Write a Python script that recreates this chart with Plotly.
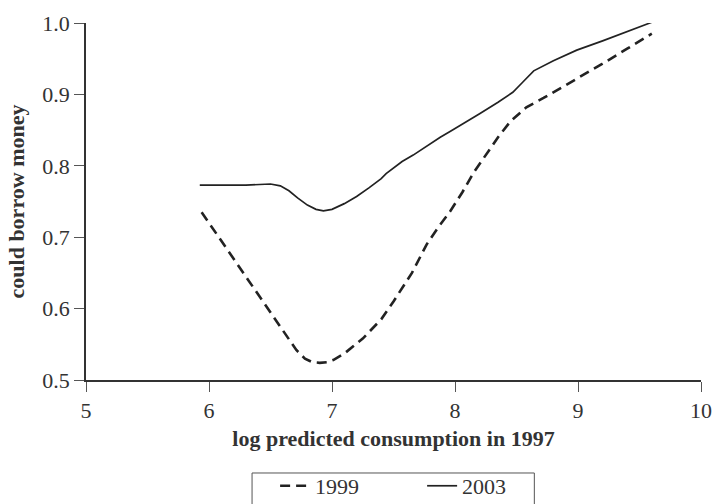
import plotly.graph_objects as go

# 1999 (dashed) series
x1999 = [5.94, 6.10, 6.30, 6.50, 6.71, 6.78, 6.84, 6.90, 6.96, 7.01, 7.10, 7.25, 7.40,
         7.50, 7.55, 7.65, 7.77, 7.86, 7.96, 8.06, 8.15, 8.23, 8.35, 8.45, 8.50, 8.58,
         8.72, 8.93, 9.02, 9.20, 9.40, 9.60]
y1999 = [0.735, 0.695, 0.645, 0.595, 0.542, 0.530, 0.525, 0.524, 0.525, 0.528, 0.537,
         0.558, 0.585, 0.610, 0.623, 0.650, 0.690, 0.713, 0.736, 0.763, 0.790, 0.810,
         0.840, 0.862, 0.870, 0.882, 0.895, 0.916, 0.924, 0.943, 0.964, 0.985]

# 2003 (solid) series
x2003 = [5.925, 6.10, 6.30, 6.50, 6.58, 6.65, 6.72, 6.80, 6.87, 6.93, 7.00, 7.10, 7.20,
         7.30, 7.40, 7.44, 7.47, 7.52, 7.57, 7.66, 7.77, 7.88, 7.97, 8.06, 8.20, 8.35,
         8.47, 8.55, 8.64, 8.80, 8.99, 9.20, 9.40, 9.60]
y2003 = [0.773, 0.773, 0.773, 0.7745, 0.772, 0.765, 0.755, 0.745, 0.739, 0.737, 0.739,
         0.747, 0.757, 0.769, 0.782, 0.789, 0.793, 0.799, 0.806, 0.815, 0.828, 0.840,
         0.849, 0.858, 0.873, 0.889, 0.903, 0.917, 0.933, 0.947, 0.962, 0.975, 0.988, 1.001]

x_ticks = [5, 6, 7, 8, 9, 10]
y_ticks = [0.5, 0.6, 0.7, 0.8, 0.9, 1.0]
y_ticklabels = ["0.5", "0.6", "0.7", "0.8", "0.9", "1.0"]

FONT = "Liberation Serif"
INK = "#222222"
TXT = "#333333"

fig = go.Figure()
fig.add_trace(go.Scatter(x=x1999, y=y1999, mode="lines", name="1999",
                         line=dict(color=INK, width=2.6, dash="10px,6px")))
fig.add_trace(go.Scatter(x=x2003, y=y2003, mode="lines", name="2003",
                         line=dict(color=INK, width=1.7)))

# legend frame (paper coordinates), open at the bottom edge like the reference
fig.add_shape(type="rect", xref="paper", yref="paper",
              x0=0.270, x1=0.729, y0=-0.2605, y1=-0.37,
              line=dict(color="#555555", width=1), fillcolor="rgba(0,0,0,0)")

fig.update_layout(
    width=713, height=504,
    margin=dict(l=86, r=12, t=23, b=124, autoexpand=False),
    paper_bgcolor="white", plot_bgcolor="white",
    font=dict(family=FONT, size=22, color=TXT),
    showlegend=True,
    legend=dict(orientation="h", x=0.3075, xanchor="left", y=-0.238, yanchor="top",
                bgcolor="rgba(0,0,0,0)", borderwidth=0,
                font=dict(size=22, family=FONT, color=TXT),
                entrywidth=102, tracegroupgap=0),
    xaxis=dict(range=[5, 10], tickvals=x_ticks, ticks="outside", ticklen=10,
               tickwidth=1.2, tickcolor="#555555", showline=True, linecolor="#333333",
               linewidth=1.5, showgrid=False, zeroline=False,
               tickfont=dict(size=22, family=FONT, color=TXT),
               title=dict(text="<b>log predicted consumption in 1997</b>",
                          font=dict(size=22, family=FONT, color=TXT), standoff=8)),
    yaxis=dict(range=[0.5, 1.0], tickvals=y_ticks, ticktext=y_ticklabels,
               ticks="outside", ticklen=10, tickwidth=1.2, tickcolor="#555555",
               showline=True, linecolor="#333333", linewidth=1.5, showgrid=False,
               zeroline=False, tickfont=dict(size=22, family=FONT, color=TXT),
               title=dict(text="<b>could borrow money</b>",
                          font=dict(size=22, family=FONT, color=TXT), standoff=12)),
)

fig.write_html("out.html")
